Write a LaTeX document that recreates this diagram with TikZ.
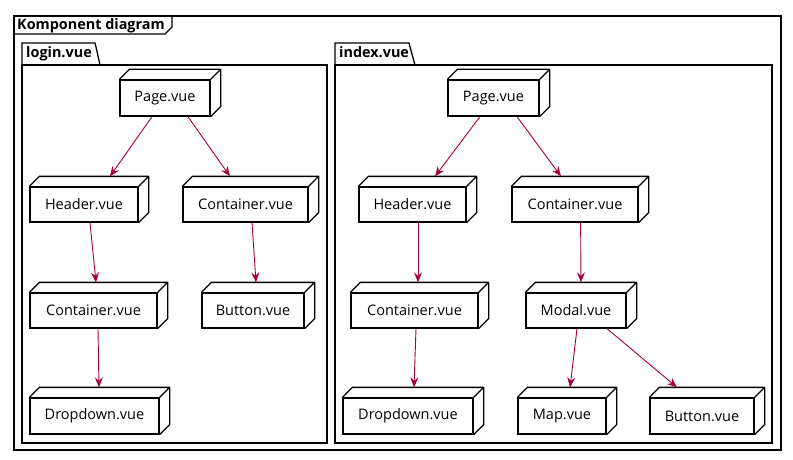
\documentclass[tikz,border=0pt]{standalone}
\usepackage{fontspec}
\setmainfont{Open Sans}
\usetikzlibrary{arrows.meta,calc}
\definecolor{arrowred}{HTML}{A80036}
\tikzset{
  comp/.style={draw, line width=1.3pt, fill=white, inner sep=0pt, font=\fontsize{14.5}{17}\selectfont},
  cubeline/.style={line width=1.3pt, line join=round},
  framebox/.style={draw, line width=1.3pt},
  ttl/.style={anchor=base west, inner sep=0pt, font=\fontsize{14.4}{17}\selectfont\bfseries},
  arr/.style={draw=arrowred, line width=0.9pt, -{Stealth[length=10pt,width=8pt,inset=3.5pt]}},
}
\newcommand\cubenode[6]{%
  \node[comp, minimum width={#4-#2}, minimum height={#5-#3}] (#1) at ({(#2+#4)/2},{(#3+#5)/2}) {#6};
  \draw[cubeline] (#1.north west) -- ++(10pt,10pt) -- ([shift={(10pt,10pt)}]#1.north east)
     -- ([shift={(10pt,10pt)}]#1.south east) -- (#1.south east)
     (#1.north east) -- ++(10pt,10pt);
}
\begin{document}
\begin{tikzpicture}[x=1pt,y=-1pt]
\useasboundingbox (0,0) rectangle (793,460);
% outer frame
\draw[framebox] (14,16) rectangle (781,450);
\draw[framebox] (14,34) -- (165,34) -- (172,27) -- (172,16);
\node[ttl] (t0) at (17,30) {Komponent diagram};
% login.vue package
\draw[framebox] (22,65) rectangle (327,443);
\draw[framebox] (22,65) -- (22,43) -- (95,43) -- (96,47) -- (100,65);
\node[ttl] (t1) at (26,58) {login.vue};
% index.vue package
\draw[framebox] (335,65) rectangle (772,443);
\draw[framebox] (335,65) -- (335,43) -- (409,43) -- (410,47) -- (415,65);
\node[ttl] (t2) at (339,58) {index.vue};
% login nodes
\cubenode{pL}{120}{80}{210}{116}{Page.vue}
\cubenode{hL}{30}{187}{138}{222}{Header.vue}
\cubenode{cLa}{183}{187}{308}{222}{Container.vue}
\cubenode{cLb}{30}{293}{157}{328}{Container.vue}
\cubenode{bL}{202}{293}{304}{328}{Button.vue}
\cubenode{dL}{30}{398}{159}{434}{Dropdown.vue}
% index nodes
\cubenode{pI}{448}{80}{539}{116}{Page.vue}
\cubenode{hI}{359}{187}{466}{222}{Header.vue}
\cubenode{cIa}{512}{187}{638}{222}{Container.vue}
\cubenode{cIb}{351}{293}{478}{328}{Container.vue}
\cubenode{mI}{526}{293}{626}{328}{Modal.vue}
\cubenode{dI}{343}{398}{473}{434}{Dropdown.vue}
\cubenode{mapI}{518}{398}{606}{434}{Map.vue}
\cubenode{bI}{650}{398}{754}{434}{Button.vue}
% login arrows
\draw[arr] ([xshift=-13pt]pL.south) -- ([xshift=26pt,yshift=10pt]hL.north);
\draw[arr] ([xshift=23pt]pL.south) -- ([xshift=-15.5pt,yshift=10pt]cLa.north);
\draw[arr] ([xshift=6pt]hL.south) -- ([xshift=2.5pt,yshift=10pt]cLb.north);
\draw[arr] ([xshift=6.5pt]cLa.south) -- ([xshift=3pt,yshift=10pt]bL.north);
\draw[arr] ([xshift=4.5pt]cLb.south) -- ([xshift=4.5pt,yshift=10pt]dL.north);
% index arrows
\draw[arr] ([xshift=-13.5pt]pI.south) -- ([xshift=22.5pt,yshift=10pt]hI.north);
\draw[arr] ([xshift=23.5pt]pI.south) -- ([xshift=-14pt,yshift=10pt]cIa.north);
\draw[arr] ([xshift=5.5pt]hI.south) -- ([xshift=3.5pt,yshift=10pt]cIb.north);
\draw[arr] ([xshift=5.6pt]cIa.south) -- ([xshift=5pt,yshift=10pt]mI.north);
\draw[arr] ([xshift=1.5pt]cIb.south) -- ([xshift=6pt,yshift=10pt]dI.north);
\draw[arr] ([xshift=1pt]mI.south) -- ([xshift=8pt,yshift=10pt]mapI.north);
\draw[arr] ([xshift=31pt]mI.south) -- ([xshift=-25pt,yshift=10pt]bI.north);
\end{tikzpicture}
\end{document}
